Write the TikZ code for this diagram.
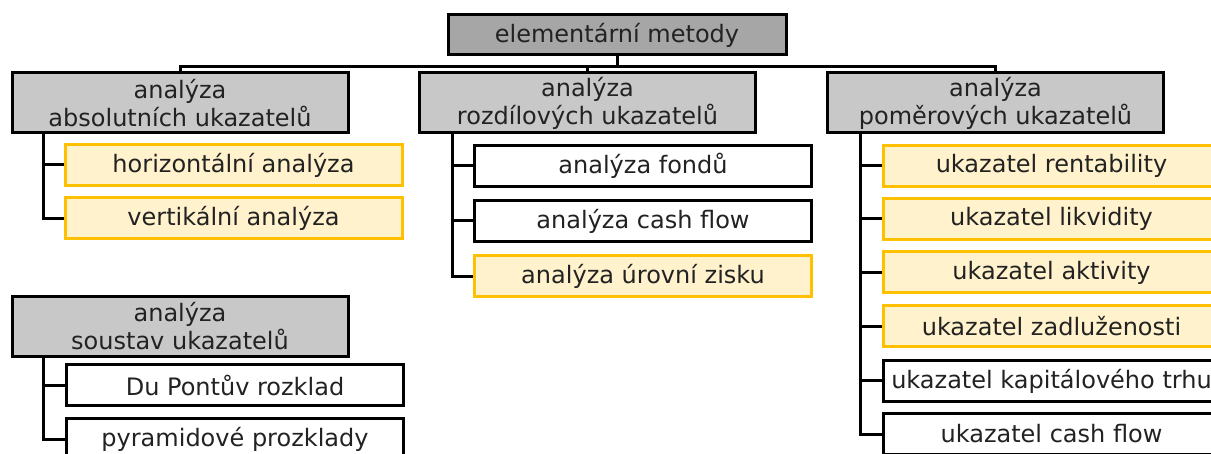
\documentclass[tikz,border=0pt]{standalone}
\usepackage{fontspec}
\setmainfont{DejaVu Sans}
\usepackage{tikz}

\definecolor{topgray}{HTML}{A6A6A6}
\definecolor{groupgray}{HTML}{C8C8C8}
\definecolor{hlfill}{HTML}{FFF2CC}
\definecolor{hldraw}{HTML}{FFC000}
\definecolor{textdark}{HTML}{222222}

\tikzset{
  topbox/.style={draw, line width=1.5pt, fill=topgray, minimum width=169pt, minimum height=20pt, inner sep=0pt, text=textdark, font=\fontsize{12}{14}\selectfont},
  groupbox/.style={draw, line width=1.5pt, fill=groupgray, minimum width=168pt, minimum height=30pt, inner sep=0pt, align=center, text=textdark, font=\fontsize{12}{14}\selectfont},
  itembox/.style={draw, line width=1.5pt, fill=white, minimum width=168.5pt, minimum height=20.5pt, inner sep=0pt, text=textdark, font=\fontsize{12}{14}\selectfont},
  hlbox/.style={itembox, draw=hldraw, fill=hlfill},
  tree/.style={line width=1.5pt}
}

\begin{document}
\begin{tikzpicture}[x=0.5pt, y=-0.5pt]
        \useasboundingbox (0,0) rectangle (1211,454);

        \node[topbox] (top) at (617,35) {elementární metody};

        \node[groupbox] (abs) at (180,103) {analýza\\absolutních ukazatelů};
        \node[groupbox] (rozd) at (587.5,103) {analýza\\rozdílových ukazatelů};
        \node[groupbox] (pom) at (995.5,103) {analýza\\poměrových ukazatelů};
        \node[groupbox] (sous) at (180,326.5) {analýza\\soustav ukazatelů};

        \node[hlbox] (horiz) at (233.5,165) {horizontální analýza};
        \node[hlbox] (vert) at (233.5,218.5) {vertikální analýza};

        \node[itembox] (fondy) at (643,166) {analýza fondů};
        \node[itembox] (cash) at (643,221) {analýza cash flow};
        \node[hlbox] (zisk) at (643,276.5) {analýza úrovní zisku};

        \node[hlbox] (rent) at (1051.5,166) {ukazatel rentability};
        \node[hlbox] (likv) at (1051.5,219) {ukazatel likvidity};
        \node[hlbox] (akt) at (1051.5,272.5) {ukazatel aktivity};
        \node[hlbox] (zadl) at (1051.5,326.5) {ukazatel zadluženosti};
        \node[itembox] (trh) at (1051.5,381) {ukazatel kapitálového trhu};
        \node[itembox] (cfu) at (1051.5,434) {ukazatel cash flow};

        \node[itembox] (dupont) at (235,385.5) {Du Pontův rozklad};
        \node[itembox] (pyr) at (235,439.5) {pyramidové prozklady};

        % bus from the top box
        \coordinate (bus) at (617,67);
        \draw[tree] (top.south) -- (bus);
        \draw[tree] (abs.north) |- (bus);
        \draw[tree] (rozd.north) |- (bus);
        \draw[tree] (pom.north) |- (bus);

        % spines
        \coordinate (absSpine) at ([xshift=16.5pt]abs.south west);
        \coordinate (rozdSpine) at ([xshift=17pt]rozd.south west);
        \coordinate (pomSpine) at ([xshift=17pt]pom.south west);
        \coordinate (sousSpine) at ([xshift=16.5pt]sous.south west);

        \draw[tree] (absSpine) |- (horiz.west);
        \draw[tree] (absSpine) |- (vert.west);
        \draw[tree] (rozdSpine) |- (fondy.west);
        \draw[tree] (rozdSpine) |- (cash.west);
        \draw[tree] (rozdSpine) |- (zisk.west);
        \draw[tree] (pomSpine) |- (rent.west);
        \draw[tree] (pomSpine) |- (likv.west);
        \draw[tree] (pomSpine) |- (akt.west);
        \draw[tree] (pomSpine) |- (zadl.west);
        \draw[tree] (pomSpine) |- (trh.west);
        \draw[tree] (pomSpine) |- (cfu.west);
        \draw[tree] (sousSpine) |- (dupont.west);
        \draw[tree] (sousSpine) |- (pyr.west);
    \end{tikzpicture}
\end{document}
